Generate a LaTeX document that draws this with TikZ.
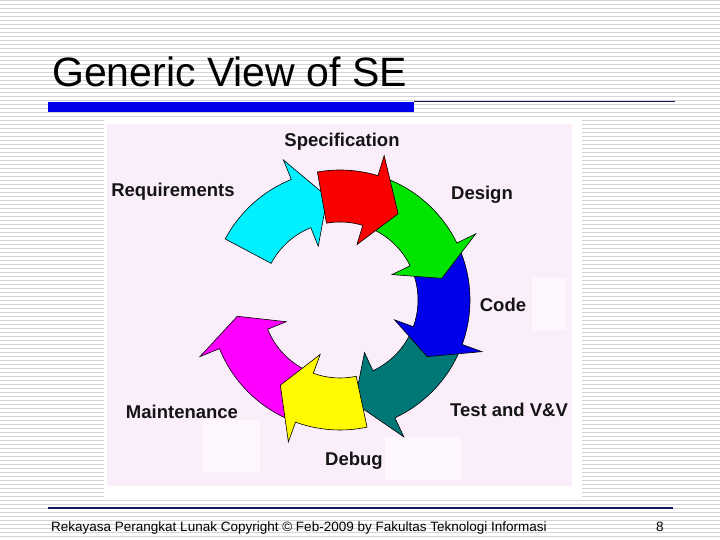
\documentclass[tikz,border=0pt]{standalone}
\usepackage{fontspec}
\setmainfont{Liberation Sans}
\definecolor{stripegray}{RGB}{212,212,212}
\definecolor{slidenavy}{RGB}{24,22,90}
\definecolor{barblue}{RGB}{0,0,235}
\definecolor{panelpink}{RGB}{251,238,251}
\definecolor{patchwhite}{RGB}{254,248,254}
\definecolor{labelgray}{RGB}{20,20,20}
\definecolor{reqcyan}{RGB}{0,240,255}
\definecolor{specred}{RGB}{250,0,0}
\definecolor{desgreen}{RGB}{0,228,0}
\definecolor{codeblue}{RGB}{0,0,235}
\definecolor{testteal}{RGB}{0,120,120}
\definecolor{dbgyellow}{RGB}{255,250,0}
\definecolor{mntmagenta}{RGB}{255,0,255}
\tikzset{
  stripe/.style={draw=stripegray,line width=1pt},
  ringarrow/.style={draw=black,line width=0.6pt,line join=miter},
  lbl/.style={font=\bfseries\fontsize{18.5}{20}\selectfont,text=labelgray,inner sep=0pt},
  title/.style={font=\fontsize{41}{48}\selectfont,inner sep=0pt,anchor=base west},
  footer/.style={font=\fontsize{13.5}{16}\selectfont,inner sep=0pt,anchor=base west}
}
\newcommand{\ringin}{78pt}
\newcommand{\ringout}{130pt}
% fill, tail angle, head base angle, tip angle
\newcommand{\cyclearrow}[4]{%
  \filldraw[ringarrow,fill=#1] (#2:\ringout)
    arc[start angle=#2,end angle=#3,radius=\ringout]
    -- (#3:151pt) -- (#4:104pt) -- (#3:58pt) -- (#3:\ringin)
    arc[start angle=#3,end angle=#2,radius=\ringin] -- cycle;}

\begin{document}
\begin{tikzpicture}[x=1pt,y=1pt]
\useasboundingbox (0,0) rectangle (720,540);
\fill[white] (0,0) rectangle (720,540);
\foreach \k in {0,...,134}
  \draw[stripe] (0,539-4*\k) -- (720,539-4*\k);

% title and rules
\node[title] (title) at (52,453) {Generic View of SE};
\fill[barblue] (48,428) rectangle (414,438);
\draw[slidenavy,line width=1pt] (414,438) -- (675,438);
\draw[slidenavy,line width=1.4pt] (48,32) -- (673,32);
\node[footer] (foot) at (51,8) {Rekayasa Perangkat Lunak Copyright © Feb-2009 by Fakultas Teknologi Informasi};
\node[footer] (page) at (656,8) {8};

% picture panel
\fill[white] (104,43) rectangle (582,421);
\fill[panelpink] (107,54) rectangle (572,416);
\fill[patchwhite] (532,210) rectangle (566,262);
\fill[patchwhite] (385,60) rectangle (462,103);
\fill[patchwhite] (203,68) rectangle (260,120);

\begin{scope}[shift={(340,240)}]
\cyclearrow{reqcyan}{152}{112}{97}
\cyclearrow{testteal}{-22}{-65}{-82}
\cyclearrow{codeblue}{24}{-20}{-33}
\cyclearrow{desgreen}{72}{26}{12}
\cyclearrow{specred}{100}{73}{56}
\cyclearrow{mntmagenta}{247}{202}{189}
\cyclearrow{dbgyellow}{-78}{-110}{-125}
\end{scope}

\node[lbl] (spec) at (342,398) {Specification};
\node[lbl] (req) at (173,348) {Requirements};
\node[lbl] (design) at (482,345) {Design};
\node[lbl] (code) at (503,235) {Code};
\node[lbl] (test) at (509,130) {Test and V\&V};
\node[lbl] (debug) at (354,79) {Debug};
\node[lbl] (maint) at (182,128) {Maintenance};
\end{tikzpicture}
\end{document}
